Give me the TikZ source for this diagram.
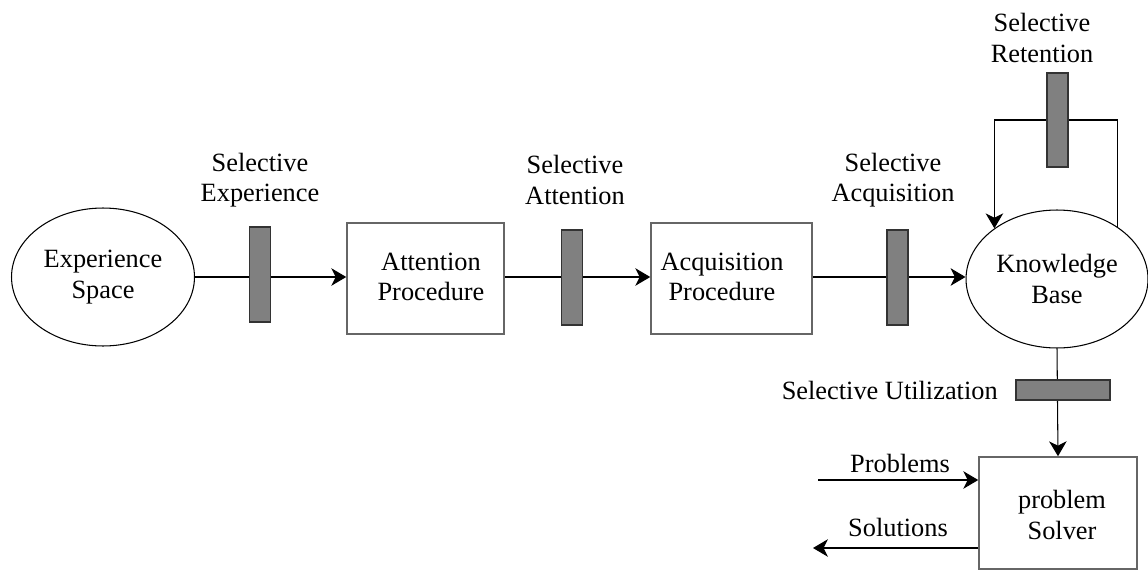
\documentclass[tikz,border=0pt]{standalone}
\usepackage{fontspec}
\setmainfont{Liberation Serif}
\usetikzlibrary{shapes.geometric,arrows.meta}
\begin{document}
\begin{tikzpicture}[x=0.02cm,y=-0.02cm,
  every node/.style={font=\fontsize{15}{17.2}\selectfont, align=center, inner sep=0pt},
  oval/.style={ellipse, draw=black, line width=0.6pt, minimum width=3.66cm, minimum height=2.76cm},
  procbox/.style={rectangle, draw=black!60, line width=0.9pt, minimum height=2.22cm},
  vgate/.style={rectangle, fill=black!50, draw=black!80, line width=0.8pt, minimum width=0.42cm, minimum height=1.9cm},
  hgate/.style={rectangle, fill=black!50, draw=black!80, line width=0.8pt, minimum width=1.88cm, minimum height=0.4cm},
  conn/.style={line width=0.6pt},
  arr/.style={conn, -{Stealth[length=8.5pt,width=10pt,inset=2.5pt]}}]
\useasboundingbox (0,0) rectangle (1148,571);

% main nodes
\node[oval] (exp) at (103,277) {Experience\\Space};
\node[procbox, minimum width=3.14cm] (att) at (425.5,278.5) {};
\node (atttxt) at (431,277) {Attention\\Procedure};
\node[procbox, minimum width=3.22cm] (acq) at (731.5,278.5) {};
\node (acqtxt) at (722,277) {Acquisition\\Procedure};
\node[oval, minimum width=3.64cm] (kb) at (1057,279) {Knowledge\\Base};
\node[procbox, minimum width=3.16cm, minimum height=2.24cm] (ps) at (1058,513) {};
\node (pstxt) at (1062,515) {problem\\Solver};

% connectors
\draw[arr] (exp.east |- 0,277) -- (att.west |- 0,277);
\draw[arr] (att.east |- 0,277) -- (acq.west |- 0,277);
\draw[arr] (acq.east |- 0,277) -- (kb.west |- 0,277);
\coordinate (rtop) at (1057.5,120);
\draw[arr] (kb.41) |- (rtop) -| (kb.141);
\draw[arr] (kb.south) -- (ps.north);
\coordinate (pin) at (818,480);
\coordinate (sout) at (813,548);
\draw[arr] (pin) -- (ps.west |- pin);
\draw[arr] (ps.west |- sout) -- (sout);

% gates
\node[vgate] (g1) at (260,274.5) {};
\node[vgate] (g2) at (572,277.5) {};
\node[vgate] (g3) at (897.5,277.5) {};
\node[vgate, minimum height=1.88cm] (gret) at (1057.5,120) {};
\node[hgate] (gutil) at (1063,390) {};

% labels
\node (l1) at (260,180) {Selective\\Experience};
\node (l2) at (575,180) {Selective\\Attention};
\node (l3) at (893,180) {Selective\\Acquisition};
\node (l4) at (1042,38) {Selective\\Retention};
\node[anchor=east] (l5) at (998,390) {Selective Utilization};
\node (l6) at (900,463) {Problems};
\node (l7) at (898,527) {Solutions};
\end{tikzpicture}
\end{document}
